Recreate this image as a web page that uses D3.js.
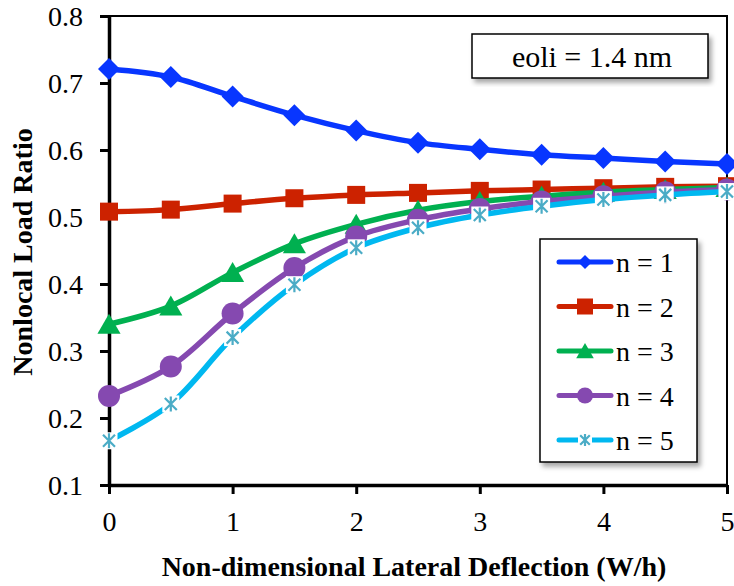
<!DOCTYPE html>
<html>
<head>
<meta charset="utf-8">
<script src="https://cdn.jsdelivr.net/npm/d3@7"></script>
<style>
  body { margin: 0; background: #fff; }
</style>
</head>
<body>
<div id="chart"></div>
<script>
// Data
const xValues = [0, 0.5, 1, 1.5, 2, 2.5, 3, 3.5, 4, 4.5, 5];
const n1 = [0.721, 0.709, 0.680, 0.652, 0.629, 0.611, 0.601, 0.593, 0.588, 0.583, 0.579];
const n2 = [0.508, 0.511, 0.520, 0.528, 0.533, 0.536, 0.539, 0.541, 0.543, 0.545, 0.546];
const n3 = [0.340, 0.367, 0.417, 0.460, 0.489, 0.510, 0.523, 0.531, 0.537, 0.541, 0.544];
const n4 = [0.233, 0.277, 0.356, 0.424, 0.471, 0.496, 0.512, 0.523, 0.531, 0.537, 0.541];
const n5 = [0.166, 0.221, 0.320, 0.399, 0.454, 0.484, 0.503, 0.516, 0.526, 0.533, 0.538];
const seriesNames = ["n = 1", "n = 2", "n = 3", "n = 4", "n = 5"];
const xTicks = [0, 1, 2, 3, 4, 5];
const yTicks = [0.1, 0.2, 0.3, 0.4, 0.5, 0.6, 0.7, 0.8];

const styles = [
    { line: "#0836ff", marker: "#0836ff", shape: "diamond" },
    { line: "#cc2200", marker: "#cc2200", shape: "square" },
    { line: "#00b050", marker: "#00b050", shape: "triangle" },
    { line: "#8549b0", marker: "#8549b0", shape: "circle" },
    { line: "#00b8f0", marker: "#4bacc6", shape: "star" }
];
const allSeries = [n1, n2, n3, n4, n5];

const FONT = "'Liberation Serif', 'Times New Roman', Times, 'Nimbus Roman', 'Noto Serif', FreeSerif, 'DejaVu Serif', serif";

// Dimensions
const width = 734, height = 586;
const margin = { top: 16, right: 7, bottom: 101, left: 109 };

const svg = d3.select("#chart")
    .append("svg")
    .attr("width", width)
    .attr("height", height)
    .style("font-family", FONT)
    .style("display", "block");

// drop shadow for boxes
const defs = svg.append("defs");
const shadow = defs.append("filter").attr("id", "shadow")
    .attr("x", "-10%").attr("y", "-10%").attr("width", "130%").attr("height", "130%");
shadow.append("feDropShadow")
    .attr("dx", 3).attr("dy", 4).attr("stdDeviation", 2.5)
    .attr("flood-color", "#000").attr("flood-opacity", 0.35);

// Scales
const x = d3.scaleLinear().domain([0, 5]).range([margin.left, width - margin.right]);
const y = d3.scaleLinear().domain([0.1, 0.8]).range([height - margin.bottom, margin.top]);

// Plot frame
svg.append("rect")
    .attr("x", x(0)).attr("y", y(0.8))
    .attr("width", x(5) - x(0)).attr("height", y(0.1) - y(0.8))
    .attr("fill", "none").attr("stroke", "#000").attr("stroke-width", 2);

// Axes
const yAxis = svg.append("g")
    .attr("transform", `translate(${x(0)},0)`)
    .call(d3.axisLeft(y).tickValues(yTicks).tickSize(9).tickSizeOuter(0).tickFormat(d3.format(".1f")));

const xAxis = svg.append("g")
    .attr("transform", `translate(0,${y(0.1)})`)
    .call(d3.axisBottom(x).tickValues(xTicks).tickSize(9).tickSizeOuter(0).tickFormat(d3.format("d")));

[yAxis, xAxis].forEach(g => {
    g.attr("font-family", null).attr("font-size", null)
        .style("font-family", FONT).style("font-size", "28px");
    g.select(".domain").attr("stroke", "#000").attr("stroke-width", 3.5);
    g.selectAll(".tick line").attr("stroke", "#000").attr("stroke-width", 3);
    g.selectAll(".tick text").attr("fill", "#000");
});
yAxis.selectAll(".tick text").attr("x", -26).attr("dy", "0.35em");
xAxis.selectAll(".tick text").attr("y", 0).attr("dy", 0).attr("transform", "translate(0,46)");

// Axis titles
svg.append("text")
    .attr("x", (x(0) + x(5)) / 2 - 4)
    .attr("y", 576)
    .attr("text-anchor", "middle")
    .style("font-size", "28px")
    .style("font-weight", "bold")
    .text("Non-dimensional Lateral Deflection (W/h)");

svg.append("text")
    .attr("transform", "translate(32,252) rotate(-90)")
    .attr("text-anchor", "middle")
    .style("font-size", "28px")
    .style("font-weight", "bold")
    .text("Nonlocal Load Ratio");

// Marker drawing
function drawMarker(g, shape, color, cx, cy, s) {
    if (shape === "diamond") {
        g.append("path")
            .attr("d", `M${cx},${cy - s}L${cx + s},${cy}L${cx},${cy + s}L${cx - s},${cy}Z`)
            .attr("fill", color);
    } else if (shape === "square") {
        g.append("rect")
            .attr("x", cx - s).attr("y", cy - s)
            .attr("width", 2 * s).attr("height", 2 * s)
            .attr("fill", color);
    } else if (shape === "triangle") {
        g.append("path")
            .attr("d", `M${cx},${cy - s}L${cx + s * 1.1},${cy + s * 0.9}L${cx - s * 1.1},${cy + s * 0.9}Z`)
            .attr("fill", color);
    } else if (shape === "circle") {
        g.append("circle").attr("cx", cx).attr("cy", cy).attr("r", s).attr("fill", color);
    } else if (shape === "star") {
        g.append("rect")
            .attr("x", cx - s - 1).attr("y", cy - s - 1)
            .attr("width", 2 * s + 2).attr("height", 2 * s + 2)
            .attr("fill", "#fff");
        const d = s * 0.8;
        g.append("path")
            .attr("d", `M${cx},${cy - s}L${cx},${cy + s}M${cx - d},${cy - d}L${cx + d},${cy + d}M${cx - d},${cy + d}L${cx + d},${cy - d}`)
            .attr("stroke", color).attr("stroke-width", 2.2).attr("fill", "none");
    }
}

const markerSize = { diamond: 11, square: 9, triangle: 10.5, circle: 11, star: 7.5 };

// Lines and markers
const line = d3.line()
    .x((d, i) => x(xValues[i]))
    .y(d => y(d))
    .curve(d3.curveCatmullRom.alpha(0.5));

allSeries.forEach((vals, k) => {
    const st = styles[k];
    const g = svg.append("g");
    g.append("path")
        .datum(vals)
        .attr("d", line)
        .attr("fill", "none")
        .attr("stroke", st.line)
        .attr("stroke-width", 5.5)
        .attr("stroke-linejoin", "round");
    vals.forEach((v, i) => drawMarker(g, st.shape, st.marker, x(xValues[i]), y(v), markerSize[st.shape]));
});

// Annotation box
svg.append("rect")
    .attr("x", 472).attr("y", 34).attr("width", 236).attr("height", 44)
    .attr("fill", "#fff").attr("stroke", "#000").attr("stroke-width", 1.5)
    .attr("filter", "url(#shadow)");
svg.append("text")
    .attr("x", 592).attr("y", 67)
    .attr("text-anchor", "middle")
    .style("font-size", "30px")
    .text("eoli = 1.4 nm");

// Legend
const legend = svg.append("g");
legend.append("rect")
    .attr("x", 540).attr("y", 239).attr("width", 157).attr("height", 223)
    .attr("fill", "#fff").attr("stroke", "#000").attr("stroke-width", 1.5)
    .attr("filter", "url(#shadow)");

const legendSize = { diamond: 7, square: 8, triangle: 8, circle: 8, star: 6 };
seriesNames.forEach((name, k) => {
    const st = styles[k];
    const cy = 262 + k * 44.5;
    const g = legend.append("g");
    g.append("line")
        .attr("x1", 559).attr("x2", 611).attr("y1", cy).attr("y2", cy)
        .attr("stroke", st.line).attr("stroke-width", 5).attr("stroke-linecap", "round");
    drawMarker(g, st.shape, st.marker, 585, cy, legendSize[st.shape]);
    g.append("text")
        .attr("x", 616).attr("y", cy + 10)
        .style("font-size", "28px")
        .text(name);
});
</script>
</body>
</html>
